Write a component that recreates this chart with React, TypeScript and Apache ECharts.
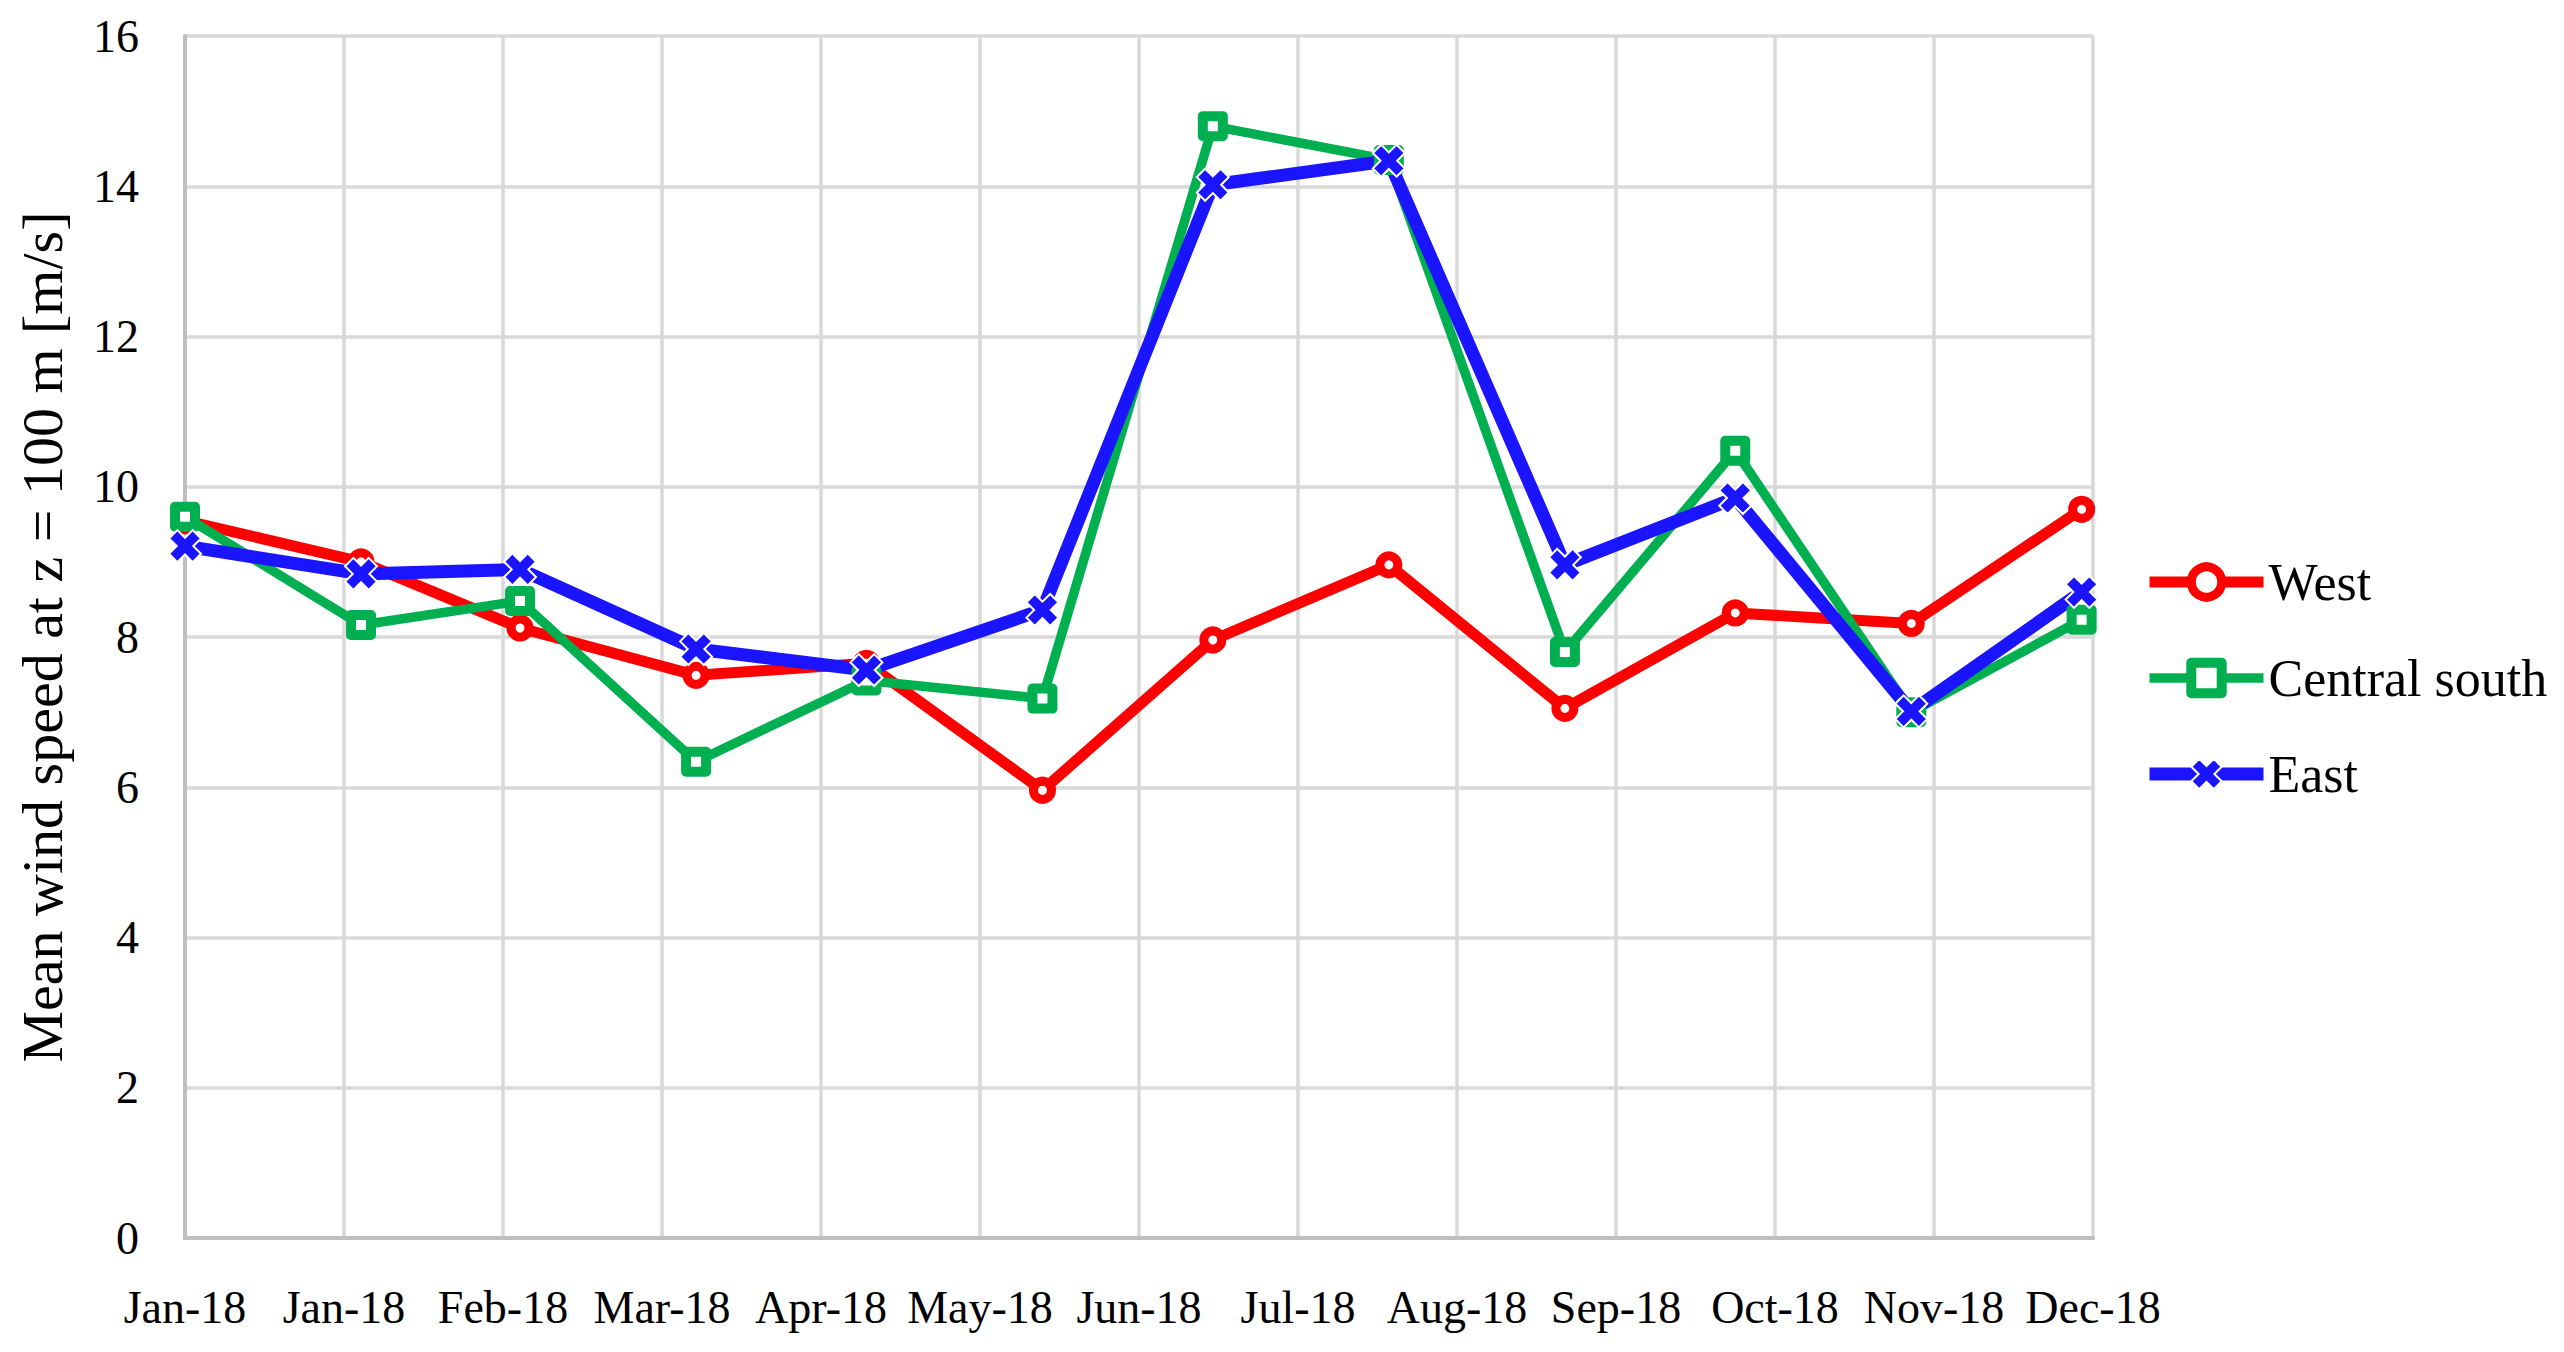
import React, { useEffect, useRef } from "react";
import * as echarts from "echarts";

const dates = [
  "2018-01-01", "2018-02-01", "2018-03-01", "2018-04-01", "2018-05-01", "2018-06-01",
  "2018-07-01", "2018-08-01", "2018-09-01", "2018-10-01", "2018-11-01", "2018-12-01",
];
const west = [9.55, 9.0, 8.12, 7.49, 7.65, 5.96, 7.96, 8.96, 7.05, 8.32, 8.18, 9.7];
const centralSouth = [9.6, 8.16, 8.48, 6.34, 7.42, 7.18, 14.8, 14.35, 7.8, 10.48, 7.0, 8.23];
const east = [9.21, 8.84, 8.9, 7.84, 7.56, 8.36, 14.02, 14.34, 8.96, 9.85, 7.01, 8.6];
const xTickLabels = [
  "Jan-18", "Jan-18", "Feb-18", "Mar-18", "Apr-18", "May-18", "Jun-18",
  "Jul-18", "Aug-18", "Sep-18", "Oct-18", "Nov-18", "Dec-18",
];
const seriesNames = ["West", "Central south", "East"];

const START = Date.UTC(2018, 0, 1);
const TICK_DAYS = 28;
const toDay = (s: string) => (Date.parse(s + "T00:00:00Z") - START) / 86400000;

const FONT = "Liberation Serif";
const X_PATH =
  "path://M0,2.6 L2.6,0 L5,2.4 L7.4,0 L10,2.6 L7.6,5 L10,7.4 L7.4,10 L5,7.6 L2.6,10 L0,7.4 L2.4,5 Z";

const RED = "#FF0000";
const GREEN = "#00B050";
const BLUE = "#1A14FF";

const westStyle = {
  symbol: "circle",
  symbolSize: 18,
  lineStyle: { color: RED, width: 11 },
  itemStyle: { color: "#ffffff", borderColor: RED, borderWidth: 9 },
};
const centralStyle = {
  symbol: "rect",
  symbolSize: 20,
  lineStyle: { color: GREEN, width: 9.5 },
  itemStyle: { color: "#ffffff", borderColor: GREEN, borderWidth: 10, borderJoin: "round" },
};
const eastStyle = {
  symbol: X_PATH,
  symbolSize: 32,
  lineStyle: { color: BLUE, width: 13 },
  itemStyle: { color: BLUE, borderColor: "#ffffff", borderWidth: 2 },
};

export default function App() {
  const ref = useRef<HTMLDivElement>(null);
  useEffect(() => {
    if (!ref.current) return;
    const chart = echarts.init(ref.current, undefined, { renderer: "svg" });
    const mk = (vals: number[]) => dates.map((d, i) => [toDay(d), vals[i]]);
    const styles = [westStyle, centralStyle, eastStyle];
    chart.setOption({
      animation: false,
      backgroundColor: "#ffffff",
      textStyle: { fontFamily: FONT },
      grid: { left: 185, right: 471, top: 36, bottom: 114 },
      legend: {
        orient: "vertical",
        left: 2138,
        top: 550,
        itemWidth: 114,
        itemHeight: 38,
        itemGap: 42,
        textStyle: { fontFamily: FONT, fontSize: 52, color: "#000", lineHeight: 54 },
        data: seriesNames.map((n, i) => ({
          name: n,
          lineStyle: { width: styles[i].lineStyle.width, color: styles[i].lineStyle.color },
          itemStyle: { ...styles[i].itemStyle },
        })),
      },
      xAxis: {
        type: "value",
        min: 0,
        max: TICK_DAYS * (xTickLabels.length - 1),
        interval: TICK_DAYS,
        axisLine: { show: true, lineStyle: { color: "#BFBFBF", width: 4 } },
        axisTick: { show: false },
        splitLine: { show: true, lineStyle: { color: "#D9D9D9", width: 3.5 } },
        axisLabel: {
          fontFamily: FONT,
          fontSize: 46,
          color: "#000",
          margin: 46,
          formatter: (v: number) => xTickLabels[Math.round(v / TICK_DAYS)] ?? "",
        },
      },
      yAxis: {
        type: "value",
        min: 0,
        max: 16,
        interval: 2,
        name: "Mean wind speed at z = 100 m [m/s]",
        nameLocation: "middle",
        nameGap: 114,
        nameTextStyle: { fontFamily: FONT, fontSize: 58, color: "#000" },
        axisLine: { show: true, lineStyle: { color: "#BFBFBF", width: 4 } },
        axisTick: { show: false },
        splitLine: { show: true, lineStyle: { color: "#D9D9D9", width: 3.5 } },
        axisLabel: { fontFamily: FONT, fontSize: 46, color: "#000", margin: 46 },
      },
      series: [
        { name: seriesNames[0], type: "line", data: mk(west), ...westStyle },
        { name: seriesNames[1], type: "line", data: mk(centralSouth), ...centralStyle },
        { name: seriesNames[2], type: "line", data: mk(east), ...eastStyle },
      ],
    });
    return () => chart.dispose();
  }, []);
  return (
    <div
      ref={ref}
      style={{ position: "fixed", left: 0, top: 0, width: 2564, height: 1352, background: "#fff" }}
    />
  );
}
